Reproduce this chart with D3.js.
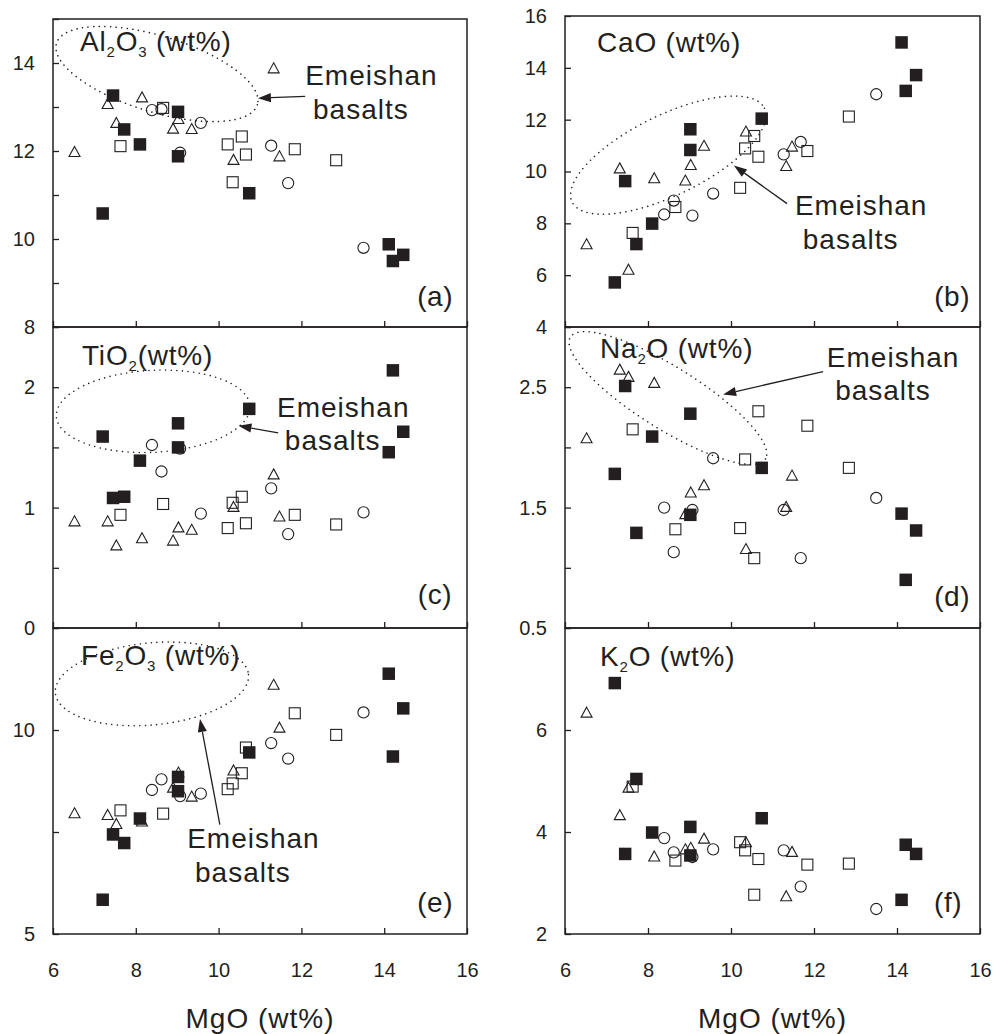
<!DOCTYPE html>
<html>
<head>
<meta charset="utf-8">
<script src="https://cdn.jsdelivr.net/npm/d3@7"></script>
<style>
  body { margin: 0; background: #fff; }
  svg text { font-family: "Liberation Sans", Arial, Helvetica, sans-serif; fill: #231f20; }
</style>
</head>
<body>
<svg id="chart" width="995" height="1034"></svg>
<script>
// ---- MgO (wt%) of each sample group ----
const mgoTriangle     = [6.52, 7.32, 7.53, 8.15, 8.90, 9.03, 9.35, 10.36, 11.33, 11.47];
const mgoCircle       = [8.39, 8.62, 9.07, 9.57, 11.27, 11.68, 13.50];
const mgoOpenSquare   = [7.63, 8.66, 10.22, 10.34, 10.56, 10.66, 11.84, 12.84];
const mgoFilledSquare = [7.20, 7.45, 7.72, 8.10, 9.02, 9.02, 10.74, 14.11, 14.21, 14.46];

// ---- Al2O3 (wt%) ----
const al2o3Triangle     = [11.99, 13.08, 12.65, 13.23, 12.52, 12.74, 12.51, 11.81, 13.89, 11.89];
const al2o3Circle       = [12.93, 12.95, 11.96, 12.64, 12.12, 11.27, 9.80];
const al2o3OpenSquare   = [12.11, 12.98, 12.15, 11.29, 12.33, 11.92, 12.04, 11.79];
const al2o3FilledSquare = [10.58, 13.26, 12.49, 12.15, 12.89, 11.88, 11.04, 9.88, 9.50, 9.64];

// ---- CaO (wt%) ----
const caoTriangle     = [7.21, 10.14, 6.23, 9.76, 9.67, 10.27, 11.01, 11.56, 10.23, 10.98];
const caoCircle       = [8.34, 8.88, 8.30, 9.15, 10.66, 11.14, 12.98];
const caoOpenSquare   = [7.63, 8.63, 9.37, 10.89, 11.37, 10.57, 10.79, 12.12];
const caoFilledSquare = [5.72, 9.63, 7.20, 7.99, 11.63, 10.83, 12.04, 14.98, 13.11, 13.72];

// ---- TiO2 (wt%) ----
const tio2Triangle     = [0.89, 0.89, 0.69, 0.75, 0.73, 0.84, 0.82, 1.01, 1.28, 0.93];
const tio2Circle       = [1.52, 1.30, 1.49, 0.95, 1.16, 0.78, 0.96];
const tio2OpenSquare   = [0.94, 1.03, 0.83, 1.04, 1.09, 0.87, 0.94, 0.86];
const tio2FilledSquare = [1.59, 1.08, 1.09, 1.39, 1.70, 1.50, 1.82, 1.46, 2.14, 1.63];

// ---- Na2O (wt%) ----
const na2oTriangle     = [2.08, 2.65, 2.59, 2.54, 1.45, 1.63, 1.69, 1.16, 1.51, 1.77];
const na2oCircle       = [1.50, 1.13, 1.48, 1.91, 1.48, 1.08, 1.58];
const na2oOpenSquare   = [2.15, 1.32, 1.33, 1.90, 1.08, 2.30, 2.18, 1.83];
const na2oFilledSquare = [1.78, 2.51, 1.29, 2.09, 2.28, 1.44, 1.83, 1.45, 0.90, 1.31];

// ---- Fe2O3 (wt%) ----
const fe2o3Triangle     = [7.97, 7.93, 7.71, 7.77, 8.60, 8.97, 8.38, 9.02, 11.12, 10.07];
const fe2o3Circle       = [8.53, 8.79, 8.38, 8.44, 9.68, 9.30, 10.43];
const fe2o3OpenSquare   = [8.03, 7.95, 8.55, 8.69, 8.94, 9.57, 10.41, 9.88];
const fe2o3FilledSquare = [5.84, 7.44, 7.23, 7.83, 8.85, 8.50, 9.45, 11.38, 9.35, 10.53];

// ---- K2O (wt%) ----
const k2oTriangle     = [6.35, 4.34, 4.88, 3.53, 3.67, 3.70, 3.88, 3.81, 2.75, 3.62];
const k2oCircle       = [3.88, 3.60, 3.51, 3.66, 3.64, 2.93, 2.49];
const k2oOpenSquare   = [4.89, 3.44, 3.80, 3.64, 2.77, 3.47, 3.36, 3.38];
const k2oFilledSquare = [6.92, 3.57, 5.04, 3.99, 4.10, 3.54, 4.27, 2.67, 3.75, 3.57];

// ---- axis ticks and labelled ticks ----
const mgoTicks = [6, 8, 10, 12, 14, 16];
const al2o3Ticks = [8, 9, 10, 11, 12, 13, 14, 15],  al2o3Labels = [8, 10, 12, 14];
const caoTicks   = [4, 6, 8, 10, 12, 14, 16],        caoLabels   = [4, 6, 8, 10, 12, 14, 16];
const tio2Ticks  = [0, 0.5, 1, 1.5, 2, 2.5],         tio2Labels  = [0, 1, 2];
const na2oTicks  = [0.5, 1, 1.5, 2, 2.5, 3],         na2oLabels  = [0.5, 1.5, 2.5];
const fe2o3Ticks = [5, 7.5, 10, 12.5],               fe2o3Labels = [5, 10];
const k2oTicks   = [2, 4, 6, 8],                     k2oLabels   = [2, 4, 6];

const ink = "#231f20";
const fontStack = '"Liberation Sans", Arial, Helvetica, sans-serif';
const svg = d3.select("#chart");
const columns = [[53, 467], [565, 980]];

// "Emeishan basalts" field: dotted ellipse (centre in data units), arrow and label
const notes = {
  a: { line1: [12.09, 13.50], line2: [12.28, 12.72], tail: [12.09, 13.24], tip: [10.95, 13.20],
       centre: [8.51, 13.75], rx: 105, ry: 38, rot: 17 },
  b: { line1: [11.54, 8.34], line2: [11.73, 7.02], tail: [11.35, 8.76], tip: [10.07, 10.23],
       centre: [8.49, 10.63], rx: 107, ry: 40, rot: -26 },
  c: { line1: [11.41, 1.75], line2: [11.60, 1.475], tail: [11.44, 1.62], tip: [10.48, 1.68],
       centre: [8.42, 1.80], rx: 97, ry: 41, rot: -3 },
  d: { line1: [12.31, 2.668], line2: [12.51, 2.394], tail: [12.22, 2.63], tip: [9.81, 2.44],
       centre: [8.48, 2.41], rx: 115, ry: 31, rot: 32 },
  e: { line1: [9.24, 7.12], line2: [9.43, 6.28], tail: [10.03, 7.68], tip: [9.55, 10.27],
       centre: [8.39, 11.13], rx: 97, ry: 41, rot: -5.5 }
};

const panels = [
  { tag: "a", col: 0, top: 19, bottom: 327, domain: [8, 15], ticks: al2o3Ticks, labels: al2o3Labels,
    title: [["Al"], ["2", 1], ["O"], ["3", 1], [" (wt%)"]], tdx: 27, tdy: 32, gdx: -14, gdy: -21,
    tri: al2o3Triangle, cir: al2o3Circle, opn: al2o3OpenSquare, fil: al2o3FilledSquare },
  { tag: "b", col: 1, top: 16, bottom: 327, domain: [4, 16], ticks: caoTicks, labels: caoLabels,
    title: [["CaO (wt%)"]], tdx: 32, tdy: 36, gdx: -10, gdy: -21,
    tri: caoTriangle, cir: caoCircle, opn: caoOpenSquare, fil: caoFilledSquare },
  { tag: "c", col: 0, top: 327, bottom: 628, domain: [0, 2.5], ticks: tio2Ticks, labels: tio2Labels,
    title: [["TiO"], ["2", 1], ["(wt%)"]], tdx: 29, tdy: 38, gdx: -15, gdy: -24,
    tri: tio2Triangle, cir: tio2Circle, opn: tio2OpenSquare, fil: tio2FilledSquare },
  { tag: "d", col: 1, top: 327, bottom: 628, domain: [0.5, 3], ticks: na2oTicks, labels: na2oLabels,
    title: [["Na"], ["2", 1], ["O (wt%)"]], tdx: 35, tdy: 31, gdx: -10, gdy: -22,
    tri: na2oTriangle, cir: na2oCircle, opn: na2oOpenSquare, fil: na2oFilledSquare },
  { tag: "e", col: 0, top: 628, bottom: 934, domain: [5, 12.5], ticks: fe2o3Ticks, labels: fe2o3Labels,
    title: [["Fe"], ["2", 1], ["O"], ["3", 1], [" (wt%)"]], tdx: 28, tdy: 37, gdx: -14, gdy: -22,
    tri: fe2o3Triangle, cir: fe2o3Circle, opn: fe2o3OpenSquare, fil: fe2o3FilledSquare, xLabels: true },
  { tag: "f", col: 1, top: 628, bottom: 934, domain: [2, 8], ticks: k2oTicks, labels: k2oLabels,
    title: [["K"], ["2", 1], ["O (wt%)"]], tdx: 35, tdy: 38, gdx: -18, gdy: -22,
    tri: k2oTriangle, cir: k2oCircle, opn: k2oOpenSquare, fil: k2oFilledSquare, xLabels: true }
];

const pairs = (xs, ys) => xs.map((v, i) => [v, ys[i]]);
const fmt = v => String(v);

function drawPanel(p) {
  const [x0, x1] = columns[p.col];
  const x = d3.scaleLinear().domain([6, 16]).range([x0, x1]);
  const y = d3.scaleLinear().domain(p.domain).range([p.bottom, p.top]);
  const g = svg.append("g");

  // Emeishan field, arrow and label
  const n = notes[p.tag];
  if (n) {
    const cx = x(n.centre[0]), cy = y(n.centre[1]);
    g.append("ellipse")
      .attr("cx", cx).attr("cy", cy).attr("rx", n.rx).attr("ry", n.ry)
      .attr("transform", `rotate(${n.rot} ${cx} ${cy})`)
      .attr("fill", "none").attr("stroke", ink).attr("stroke-width", 1.6)
      .attr("stroke-linecap", "round").attr("stroke-dasharray", "0 5.6");

    const tx = x(n.tail[0]), ty = y(n.tail[1]);
    const hx = x(n.tip[0]), hy = y(n.tip[1]);
    const ang = Math.atan2(hy - ty, hx - tx);
    const len = 13, half = 4.6;
    const bx = hx - len * Math.cos(ang), by = hy - len * Math.sin(ang);
    g.append("line").attr("x1", tx).attr("y1", ty).attr("x2", bx).attr("y2", by)
      .attr("stroke", ink).attr("stroke-width", 1.3);
    g.append("path")
      .attr("d", `M${hx},${hy}L${bx - half * Math.sin(ang)},${by + half * Math.cos(ang)}L${bx + half * Math.sin(ang)},${by - half * Math.cos(ang)}Z`)
      .attr("fill", ink);

    [[n.line1, "Emeishan"], [n.line2, "basalts"]].forEach(([pos, word]) => {
      g.append("text").attr("x", x(pos[0])).attr("y", y(pos[1]))
        .attr("font-size", 28).attr("letter-spacing", 1).text(word);
    });
  }

  // y axis with inward ticks
  g.append("g").attr("transform", `translate(${x0},0)`)
    .call(d3.axisLeft(y).tickValues(p.ticks).tickSize(-6).tickPadding(18)
      .tickFormat(v => p.labels.includes(v) ? fmt(v) : ""))
    .call(s => s.select(".domain").remove())
    .attr("font-size", 20).attr("font-family", fontStack).attr("color", ink)
    .call(s => s.selectAll(".tick line").attr("stroke-width", 1.3));

  // x axis with inward ticks
  g.append("g").attr("transform", `translate(0,${p.bottom})`)
    .call(d3.axisBottom(x).tickValues(mgoTicks).tickSize(-6).tickPadding(29)
      .tickFormat(v => p.xLabels ? fmt(v) : ""))
    .call(s => s.select(".domain").remove())
    .attr("font-size", 20).attr("font-family", fontStack).attr("color", ink)
    .call(s => s.selectAll(".tick line").attr("stroke-width", 1.3));

  // frame
  g.append("rect").attr("x", x0).attr("y", p.top)
    .attr("width", x1 - x0).attr("height", p.bottom - p.top)
    .attr("fill", "none").attr("stroke", ink).attr("stroke-width", 1.5);

  // sample symbols
  const tw = 11, th = 10;
  g.append("g").selectAll("path").data(pairs(mgoTriangle, p.tri)).join("path")
    .attr("d", d => `M${x(d[0])},${y(d[1]) - th / 2}L${x(d[0]) + tw / 2},${y(d[1]) + th / 2}L${x(d[0]) - tw / 2},${y(d[1]) + th / 2}Z`)
    .attr("fill", "none").attr("stroke", ink).attr("stroke-width", 1.1).attr("stroke-linejoin", "miter");

  g.append("g").selectAll("circle").data(pairs(mgoCircle, p.cir)).join("circle")
    .attr("cx", d => x(d[0])).attr("cy", d => y(d[1])).attr("r", 5.6)
    .attr("fill", "none").attr("stroke", ink).attr("stroke-width", 1.1);

  const os = 11;
  g.append("g").selectAll("rect").data(pairs(mgoOpenSquare, p.opn)).join("rect")
    .attr("x", d => x(d[0]) - os / 2).attr("y", d => y(d[1]) - os / 2)
    .attr("width", os).attr("height", os)
    .attr("fill", "none").attr("stroke", ink).attr("stroke-width", 1.1);

  const fs = 12.5;
  g.append("g").selectAll("rect").data(pairs(mgoFilledSquare, p.fil)).join("rect")
    .attr("x", d => x(d[0]) - fs / 2).attr("y", d => y(d[1]) - fs / 2)
    .attr("width", fs).attr("height", fs).attr("fill", ink);

  // oxide title with subscripts
  const t = g.append("text").attr("x", x0 + p.tdx).attr("y", p.top + p.tdy)
    .attr("font-size", 28).attr("letter-spacing", 0.8);
  let shifted = false;
  p.title.forEach(([str, sub]) => {
    const span = t.append("tspan").text(str);
    if (sub && !shifted) { span.attr("dy", 6).attr("font-size", 15); shifted = true; }
    else if (sub) { span.attr("font-size", 15); }
    else if (shifted) { span.attr("dy", -6); shifted = false; }
  });

  // panel tag
  g.append("text").attr("x", x1 + p.gdx).attr("y", p.bottom + p.gdy)
    .attr("text-anchor", "end").attr("font-size", 28).attr("letter-spacing", 0.5)
    .text(`(${p.tag})`);
}

panels.forEach(drawPanel);

// MgO axis titles under both columns
columns.forEach(([x0, x1]) => {
  svg.append("text").attr("x", (x0 + x1) / 2).attr("y", 1028)
    .attr("text-anchor", "middle").attr("font-size", 28).attr("letter-spacing", 1)
    .text("MgO (wt%)");
});
</script>
</body>
</html>
